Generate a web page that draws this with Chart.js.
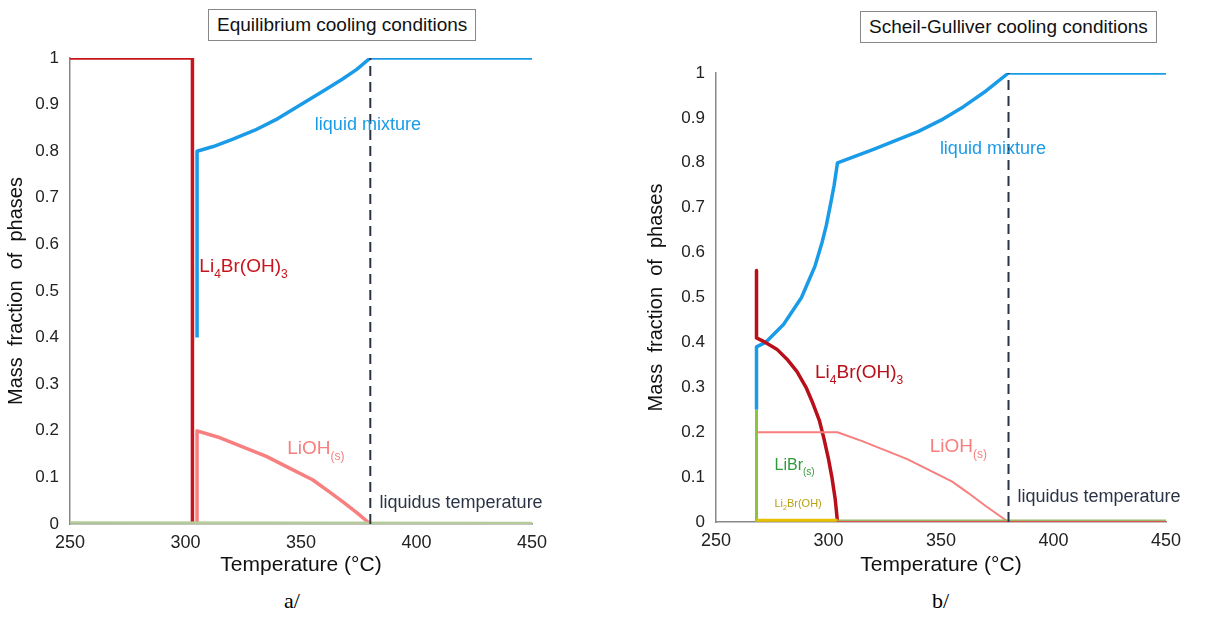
<!DOCTYPE html>
<html><head><meta charset="utf-8">
<script src="https://cdn.jsdelivr.net/npm/chart.js@4"></script>
<style>
body{margin:0;background:#fff;width:1216px;height:617px;position:relative;overflow:hidden;font-family:Arial,"Liberation Sans",sans-serif}
canvas{position:absolute;top:0}
.box{position:absolute;border:1px solid #888;background:#fff;font-size:19px;padding:4px 8px;color:#111;z-index:2}
.cap{position:absolute;font-family:"Liberation Serif",serif;font-size:22px;top:588px}
</style></head><body>
<canvas id="ca" width="560" height="582" style="left:0;width:560px;height:582px"></canvas>
<canvas id="cb" width="576" height="582" style="left:640px;width:576px;height:582px"></canvas>
<div class="box" style="left:208px;top:9px">Equilibrium cooling conditions</div>
<div class="box" style="left:860px;top:11px">Scheil-Gulliver cooling conditions</div>
<div class="cap" style="left:284px">a/</div>
<div class="cap" style="left:932px">b/</div>
<script>
// ----- data: equilibrium (a) -----
const aSolid = [[250,1],[303,1],[303,0]];
const aLiquid = [[305,0.4],[305,0.8],[312,0.81],[320,0.825],[330,0.845],[340,0.87],[350,0.9],[360,0.93],[368,0.955],[374,0.975],[380,1],[450,1]];
const aLiOH = [[305,0],[305,0.2],[315,0.185],[325,0.165],[335,0.145],[345,0.12],[355,0.095],[362,0.07],[368,0.048],[374,0.025],[380,0]];
const aBase = [[250,0.003],[450,0.002]];
// ----- data: Scheil-Gulliver (b) -----
const bLiquid = [[268,0.25],[268,0.39],[272,0.4],[276,0.42],[280,0.44],[284,0.47],[288,0.5],[291,0.535],[294,0.57],[297,0.62],[299,0.66],[301,0.71],[302.5,0.75],[304,0.8],[312,0.815],[320,0.83],[330,0.85],[340,0.87],[350,0.895],[360,0.925],[370,0.96],[380,1],[450,1]];
const bSolid = [[268,0.56],[268,0.41],[272,0.4],[277,0.385],[282,0.36],[286,0.335],[290,0.3],[293,0.265],[296,0.225],[298,0.185],[300,0.14],[301.5,0.1],[303,0.05],[304,0]];
const bLiOH = [[268,0.2],[304,0.2],[315,0.18],[325,0.16],[335,0.14],[345,0.115],[355,0.09],[362,0.065],[370,0.035],[380,0]];
const bLiBr = [[268,0],[268,0.25]];
const bLi2 = [[268,0.004],[304,0.004]];
const bBase = [[304,0.003],[450,0.003]];
const bZero = [[304,0],[450,0]];
const liquidusT = 380;
const xTicks = [250,300,350,400,450];

const pts = a => a.map(p => ({x:p[0], y:p[1]}));
const line = (d, c, w, extra) => Object.assign({data:pts(d), borderColor:c, borderWidth:w, showLine:true, pointRadius:0, fill:false, tension:0, borderJoinStyle:'round'}, extra||{});

const labelPlugin = {
  id:'labels',
  afterDatasetsDraw(chart){
    const {ctx, scales:{x,y}} = chart;
    (chart.options.plugins.labels.items||[]).forEach(it => {
      let px = x.getPixelForValue(it.x), py = y.getPixelForValue(it.y);
      ctx.save(); ctx.fillStyle = it.color; ctx.textBaseline='alphabetic';
      it.parts.forEach(p => {
        const sub = Array.isArray(p);
        const s = sub ? p[0] : p;
        ctx.font = (sub ? Math.round(it.size*0.65) : it.size) + 'px Arial';
        ctx.fillText(s, px, py + (sub ? it.size*0.3 : 0));
        px += ctx.measureText(s).width;
      });
      ctx.restore();
    });
  }
};

function makeChart(id, datasets, labels, yw, xh, top, right){
  new Chart(document.getElementById(id), {
    type:'scatter',
    data:{datasets},
    plugins:[labelPlugin],
    options:{
      responsive:false, animation:false,
      layout:{padding:{top, right, left:0, bottom:0}},
      plugins:{legend:{display:false}, tooltip:{enabled:false}, labels:{items:labels}},
      scales:{
        x:{type:'linear', min:250, max:450,
          afterBuildTicks: s => { s.ticks = xTicks.map(v => ({value:v})); },
          afterFit: s => { s.height = xh; },
          grid:{display:false}, border:{color:'#888', width:1.5},
          ticks:{color:'#222', font:{size:18, family:'Arial'}, padding:0},
          title:{display:true, text:'Temperature (°C)', color:'#111', font:{size:21, family:'Arial'}, padding:{top:2}}},
        y:{min:0, max:1,
          afterFit: s => { s.width = yw; },
          grid:{display:false}, border:{color:'#888', width:1.5},
          ticks:{stepSize:0.1, color:'#222', font:{size:17, family:'Arial'}, callback:v => +v.toFixed(1)},
          title:{display:true, text:'Mass  fraction  of  phases', color:'#111', font:{size:20, family:'Arial'}}}
      }
    }
  });
}

const dash = {borderDash:[10,6]};
makeChart('ca', [
  line([[liquidusT,0],[liquidusT,1.07]], '#2b3446', 2, dash),
  line(aBase, '#b5cc9a', 2.5),
  line(aLiOH, '#f77f7f', 3.5),
  line(aSolid, '#c8141c', 3.5),
  line(aLiquid, '#1a9be8', 3.5)
], [
  {x:306, y:0.54, color:'#c8141c', size:19, parts:['Li',['4'],'Br(OH)',['3']]},
  {x:356, y:0.845, color:'#1a9be8', size:18, parts:['liquid mixture']},
  {x:344, y:0.15, color:'#f77f7f', size:19, parts:['LiOH',['(s)']]},
  {x:384, y:0.035, color:'#2b3446', size:18, parts:['liquidus temperature']}
], 70, 58, 58, 28);

makeChart('cb', [
  line([[liquidusT,0],[liquidusT,1.13]], '#2b3446', 2, dash),
  line(bZero, '#e05050', 2),
  line(bBase, '#9ab86a', 2.5),
  line(bLi2, '#e8c000', 3),
  line(bLiBr, '#8cc43c', 3),
  line(bLiOH, '#f77f7f', 2),
  line(bSolid, '#b8101a', 3.5),
  line(bLiquid, '#1a9be8', 3.5)
], [
  {x:294, y:0.32, color:'#b8101a', size:19, parts:['Li',['4'],'Br(OH)',['3']]},
  {x:349.5, y:0.82, color:'#1a9be8', size:18, parts:['liquid mixture']},
  {x:345, y:0.155, color:'#f77f7f', size:19, parts:['LiOH',['(s)']]},
  {x:276, y:0.115, color:'#2e9a3a', size:16, parts:['LiBr',['(s)']]},
  {x:276, y:0.034, color:'#b8a010', size:11, parts:['Li',['2'],'Br(OH)']},
  {x:384, y:0.045, color:'#2b3446', size:18, parts:['liquidus temperature']}
], 76, 60, 73, 50);
</script>
</body></html>
